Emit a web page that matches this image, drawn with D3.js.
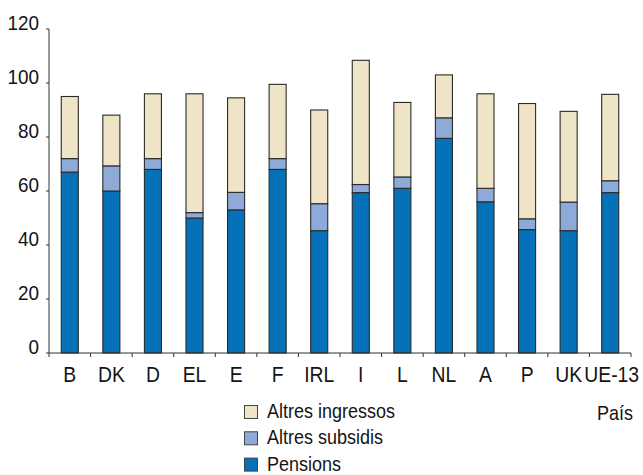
<!DOCTYPE html>
<html>
<head>
<meta charset="utf-8">
<script src="https://cdn.jsdelivr.net/npm/d3@7"></script>
<style>
  html, body { margin: 0; padding: 0; background: #fff; }
  svg text { font-family: "Liberation Sans", Arial, sans-serif; fill: #141414; }
</style>
</head>
<body>
<svg id="chart" width="643" height="475"></svg>
<script>
// Income composition by country (stacked, % of reference income)
const countries = ["B", "DK", "D", "EL", "E", "F", "IRL", "I", "L", "NL", "A", "P", "UK", "UE-13"];
const pensions        = [67, 60, 68, 50, 53, 68, 45.3, 59.4, 61, 79.5, 56, 45.7, 45.3, 59.4];
const altresSubsidis  = [5, 9.3, 4, 2, 6.5, 4, 10, 3, 4.2, 7.6, 5, 4, 10.6, 4.4];
const altresIngressos = [23, 18.8, 24, 44, 35, 27.5, 34.7, 46, 27.6, 15.9, 35, 42.7, 33.6, 32];
const yTicks = [0, 20, 40, 60, 80, 100, 120];

const seriesNames  = ["Pensions", "Altres subsidis", "Altres ingressos"];
const seriesColors = ["#0571b9", "#8eaad9", "#efe4c5"];

const rows = countries.map((c, i) => ({
  country: c,
  "Pensions": pensions[i],
  "Altres subsidis": altresSubsidis[i],
  "Altres ingressos": altresIngressos[i]
}));

const svg = d3.select("#chart");
const plotLeft = 49, plotRight = 631, plotTop = 29, plotBottom = 353;
const narrow = 0.9; // horizontal squeeze for a condensed look

// place a text at (x, y) with a condensed horizontal scale
function condensed(sel, fx, fy) {
  return sel.attr("transform", (d, i) => `translate(${fx(d, i)},${fy(d, i)}) scale(${narrow},1)`);
}

const x = d3.scaleBand().domain(countries).range([plotLeft, plotRight]).paddingInner(0.59).paddingOuter(0.295);
const y = d3.scaleLinear().domain([0, 120]).range([plotBottom, plotTop]);

const stacked = d3.stack().keys(seriesNames)(rows);

// stacked bars
svg.append("g").selectAll("g")
  .data(stacked)
  .join("g")
    .attr("fill", (d, i) => seriesColors[i])
  .selectAll("rect")
  .data(d => d)
  .join("rect")
    .attr("x", d => x(d.data.country))
    .attr("width", x.bandwidth())
    .attr("y", d => y(d[1]))
    .attr("height", d => y(d[0]) - y(d[1]))
    .attr("stroke", "#2a2a2a")
    .attr("stroke-width", 1.1);

// y axis
const yAxis = svg.append("g").attr("transform", `translate(${plotLeft},0)`);
yAxis.append("line").attr("x1", 0).attr("x2", 0).attr("y1", y(120)).attr("y2", y(0))
  .attr("stroke", "#333").attr("stroke-width", 1);
yAxis.selectAll("line.tick").data(yTicks).join("line").attr("class", "tick")
  .attr("x1", -3).attr("x2", 0).attr("y1", d => y(d)).attr("y2", d => y(d))
  .attr("stroke", "#333");
condensed(yAxis.selectAll("text").data(yTicks).join("text"), () => -10, d => y(d) + 1)
  .attr("text-anchor", "end")
  .attr("font-size", 21)
  .text(d => d);

// x axis with ticks at the category boundaries
const xAxis = svg.append("g").attr("transform", `translate(0,${plotBottom})`);
xAxis.append("line").attr("x1", plotLeft).attr("x2", plotRight).attr("y1", 0).attr("y2", 0)
  .attr("stroke", "#333");
const edges = d3.range(countries.length + 1).map(i => plotLeft + i * x.step());
xAxis.selectAll("line.tick").data(edges).join("line").attr("class", "tick")
  .attr("x1", d => d).attr("x2", d => d).attr("y1", 0).attr("y2", 4)
  .attr("stroke", "#333");
condensed(xAxis.selectAll("text").data(countries).join("text"),
    d => x(d) + x.bandwidth() / 2 + (d === "UE-13" ? 1.5 : 0), () => 29)
  .attr("text-anchor", "middle")
  .attr("font-size", 21.5)
  .text(d => d);

// legend
const legendItems = ["Altres ingressos", "Altres subsidis", "Pensions"];
const legendColors = ["#efe4c5", "#8eaad9", "#0571b9"];
const legend = svg.append("g");
legend.selectAll("rect").data(legendItems).join("rect")
  .attr("x", 244.5).attr("y", (d, i) => 405.5 + i * 26.3)
  .attr("width", 13).attr("height", 13)
  .attr("fill", (d, i) => legendColors[i])
  .attr("stroke", "#444").attr("stroke-width", 1);
condensed(legend.selectAll("text").data(legendItems).join("text"),
    () => 267, (d, i) => 418 + i * 26.3)
  .attr("font-size", 20)
  .text(d => d);

condensed(svg.append("text").datum("País"), () => 597, () => 419.5)
  .attr("font-size", 20)
  .text(d => d);
</script>
</body>
</html>
